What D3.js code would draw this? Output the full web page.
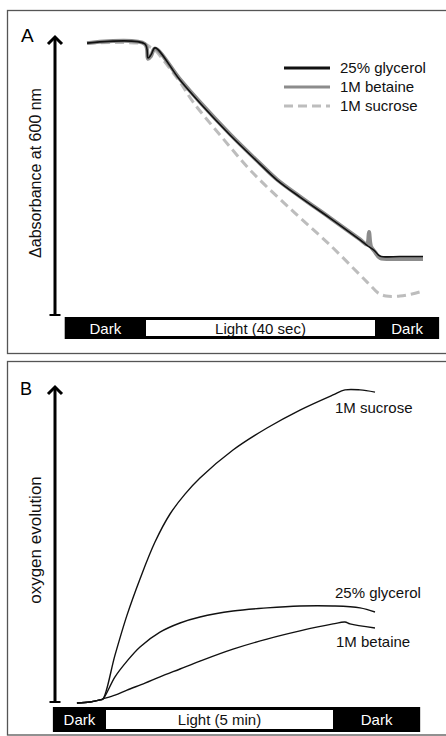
<!DOCTYPE html>
<html>
<head>
<meta charset="utf-8">
<script src="https://cdn.jsdelivr.net/npm/d3@7"></script>
<style>
  html, body { margin: 0; padding: 0; background: #fff; }
  svg { display: block; font-family: "Liberation Sans", Arial, sans-serif; }
</style>
</head>
<body>
<svg id="chart" width="446" height="736"></svg>
<script>
// ---- Panel A: absorbance at 600 nm, time in seconds (light on at 0, off at 40)
const aGlyTime = [-10.3, -0.2, 0.35, 0.87, 1.57, 5.94, 9.43, 14.67, 19.91, 22.88, 26.9, 32.14, 37.38, 38.78, 39.8, 40.87, 44.37, 48.38];
const aGlyVal  = [0.971, 0.968, 0.918, 0.929, 0.954, 0.839, 0.757, 0.643, 0.539, 0.482, 0.421, 0.346, 0.268, 0.246, 0.232, 0.211, 0.209, 0.209];
const aBetTime = [-10.3, -0.2, 0.35, 0.87, 1.57, 5.94, 9.43, 14.67, 19.91, 22.88, 26.9, 32.14, 37.38, 38.6, 38.95, 39.3, 40.0, 40.87, 44.37, 48.38];
const aBetVal  = [0.971, 0.968, 0.915, 0.925, 0.952, 0.842, 0.76, 0.646, 0.541, 0.484, 0.423, 0.347, 0.27, 0.252, 0.296, 0.245, 0.225, 0.204, 0.2, 0.2];
const aSucTime = [-10.3, -0.17, 0.7, 1.57, 3.84, 5.94, 8.21, 12.93, 18.69, 26.03, 32.14, 37.38, 39.13, 40.52, 41.92, 44.37, 46.46, 48.38];
const aSucVal  = [0.971, 0.968, 0.957, 0.946, 0.889, 0.832, 0.761, 0.643, 0.507, 0.364, 0.25, 0.143, 0.107, 0.079, 0.068, 0.068, 0.075, 0.086];
const aLegend = ["25% glycerol", "1M betaine", "1M sucrose"];
const aBar = [{label: "Dark", t0: -14.2, t1: 0}, {label: "Light (40 sec)", t0: 0, t1: 40}, {label: "Dark", t0: 40, t1: 51.2}];

// ---- Panel B: oxygen evolution, time in minutes (light on at 0, off at 5)
const bSucTime = [-0.64, -0.35, -0.13, -0.066, 0.198, 0.463, 0.749, 1.079, 1.41, 1.74, 2.07, 2.797, 3.546, 4.273, 5.0, 5.264, 5.595, 5.925];
const bSucVal  = [0, 0.003, 0.01, 0.013, 0.152, 0.279, 0.394, 0.511, 0.6, 0.663, 0.714, 0.803, 0.873, 0.93, 0.978, 0.994, 0.994, 0.987];
const bGlyTime = [-0.64, -0.35, -0.13, -0.066, 0.198, 0.463, 0.749, 1.189, 1.63, 2.07, 2.797, 3.546, 4.273, 5.0, 5.595, 5.925];
const bGlyVal  = [0, 0.003, 0.01, 0.013, 0.083, 0.133, 0.178, 0.225, 0.254, 0.273, 0.292, 0.302, 0.308, 0.308, 0.302, 0.289];
const bBetTime = [-0.64, -0.35, -0.13, -0.066, 0.198, 0.463, 0.859, 1.189, 1.63, 2.07, 2.797, 3.546, 4.273, 5.0, 5.264, 5.374, 5.925];
const bBetVal  = [0, 0.003, 0.01, 0.013, 0.025, 0.041, 0.063, 0.083, 0.108, 0.133, 0.171, 0.203, 0.229, 0.251, 0.257, 0.251, 0.238];
const bLabels = ["1M sucrose", "25% glycerol", "1M betaine"];
const bBar = [{label: "Dark", t0: -1.17, t1: 0}, {label: "Light (5 min)", t0: 0, t1: 5}, {label: "Dark", t0: 5, t1: 6.92}];

const zip = (ts, vs) => ts.map((t, i) => ({t: t, v: vs[i]}));

const svg = d3.select("#chart");

// panel frames
svg.append("rect").attr("x", 7.5).attr("y", 10.5).attr("width", 450).attr("height", 343)
  .attr("fill", "none").attr("stroke", "#555").attr("stroke-width", 1.3);
svg.append("rect").attr("x", 7.5).attr("y", 361.5).attr("width", 450).attr("height", 373.5)
  .attr("fill", "none").attr("stroke", "#555").attr("stroke-width", 1.3);

function drawAxis(g, x, yTop, yBottom, label, labelY, fontSize) {
  g.append("line").attr("x1", x).attr("x2", x).attr("y1", yTop + 1).attr("y2", yBottom)
    .attr("stroke", "#000").attr("stroke-width", 3);
  g.append("path").attr("d", `M${x - 7},${yTop + 7}L${x},${yTop}L${x + 7},${yTop + 7}`)
    .attr("fill", "none").attr("stroke", "#000").attr("stroke-width", 3);
  g.append("line").attr("x1", x - 5.5).attr("x2", x + 5.5).attr("y1", yBottom).attr("y2", yBottom)
    .attr("stroke", "#000").attr("stroke-width", 2);
  g.append("text").attr("transform", `translate(41,${labelY}) rotate(-90)`)
    .attr("text-anchor", "middle").style("font-size", fontSize + "px").attr("fill", "#111").text(label);
}

function drawBar(g, xs, items, y0, h) {
  items.forEach(d => {
    const dark = d.label === "Dark";
    g.append("rect").attr("x", xs(d.t0)).attr("y", y0).attr("width", xs(d.t1) - xs(d.t0)).attr("height", h)
      .attr("fill", "#000");
    if (!dark) {
      g.append("rect").attr("x", xs(d.t0)).attr("y", y0 + 3).attr("width", xs(d.t1) - xs(d.t0)).attr("height", h - 6)
        .attr("fill", "#fff");
    }
    g.append("text").attr("x", (xs(d.t0) + xs(d.t1)) / 2).attr("y", y0 + h / 2 + 5.5)
      .attr("text-anchor", "middle").style("font-size", "15px")
      .attr("fill", dark ? "#fff" : "#111").text(d.label);
  });
}

// ---- Panel A
const gA = svg.append("g");
const xA = d3.scaleLinear().domain([0, 40]).range([146, 375]);
const yA = d3.scaleLinear().domain([0, 1]).range([315, 35]);
const lineA = d3.line().x(d => xA(d.t)).y(d => yA(d.v)).curve(d3.curveCatmullRom.alpha(0.5));

gA.append("text").attr("x", 21).attr("y", 42).style("font-size", "19px").text("A");
drawAxis(gA, 55, 37, 315, "\u0394absorbance at 600 nm", 173, 16);

const seriesA = [
  {name: aLegend[2], data: zip(aSucTime, aSucVal), color: "#bdbdbd", width: 3, dash: "9,5"},
  {name: aLegend[1], data: zip(aBetTime, aBetVal), color: "#8c8c8c", width: 4, dash: null},
  {name: aLegend[0], data: zip(aGlyTime, aGlyVal), color: "#111", width: 1.6, dash: null}
];
seriesA.forEach(s => {
  gA.append("path").attr("d", lineA(s.data)).attr("fill", "none")
    .attr("stroke", s.color).attr("stroke-width", s.width)
    .attr("stroke-dasharray", s.dash).attr("stroke-linejoin", "round");
});

// legend A
const legendStyles = [
  {color: "#111", width: 3, dash: null},
  {color: "#8c8c8c", width: 3, dash: null},
  {color: "#bdbdbd", width: 3, dash: "9,5"}
];
aLegend.forEach((name, i) => {
  const y = 68 + i * 19;
  gA.append("line").attr("x1", 284).attr("x2", 330).attr("y1", y).attr("y2", y)
    .attr("stroke", legendStyles[i].color).attr("stroke-width", legendStyles[i].width)
    .attr("stroke-dasharray", legendStyles[i].dash);
  gA.append("text").attr("x", 340).attr("y", y + 5).style("font-size", "15px").attr("fill", "#111").text(name);
});

drawBar(gA, xA, aBar, 317, 22);

// ---- Panel B
const gB = svg.append("g");
const xB = d3.scaleLinear().domain([0, 5]).range([106, 333]);
const yB = d3.scaleLinear().domain([0, 1]).range([703, 388]);
const lineB = d3.line().x(d => xB(d.t)).y(d => yB(d.v)).curve(d3.curveCatmullRom.alpha(0.5));

gB.append("text").attr("x", 20).attr("y", 395).style("font-size", "18px").text("B");
drawAxis(gB, 55, 387, 702, "oxygen evolution", 540, 17);

[zip(bSucTime, bSucVal), zip(bGlyTime, bGlyVal), zip(bBetTime, bBetVal)].forEach(data => {
  gB.append("path").attr("d", lineB(data)).attr("fill", "none")
    .attr("stroke", "#111").attr("stroke-width", 1.4);
});

const bLabelPos = [{x: 335, y: 413}, {x: 335, y: 598}, {x: 336, y: 647}];
bLabels.forEach((name, i) => {
  gB.append("text").attr("x", bLabelPos[i].x).attr("y", bLabelPos[i].y)
    .style("font-size", "15px").attr("fill", "#111").text(name);
});

drawBar(gB, xB, bBar, 707, 25);
</script>
</body>
</html>
